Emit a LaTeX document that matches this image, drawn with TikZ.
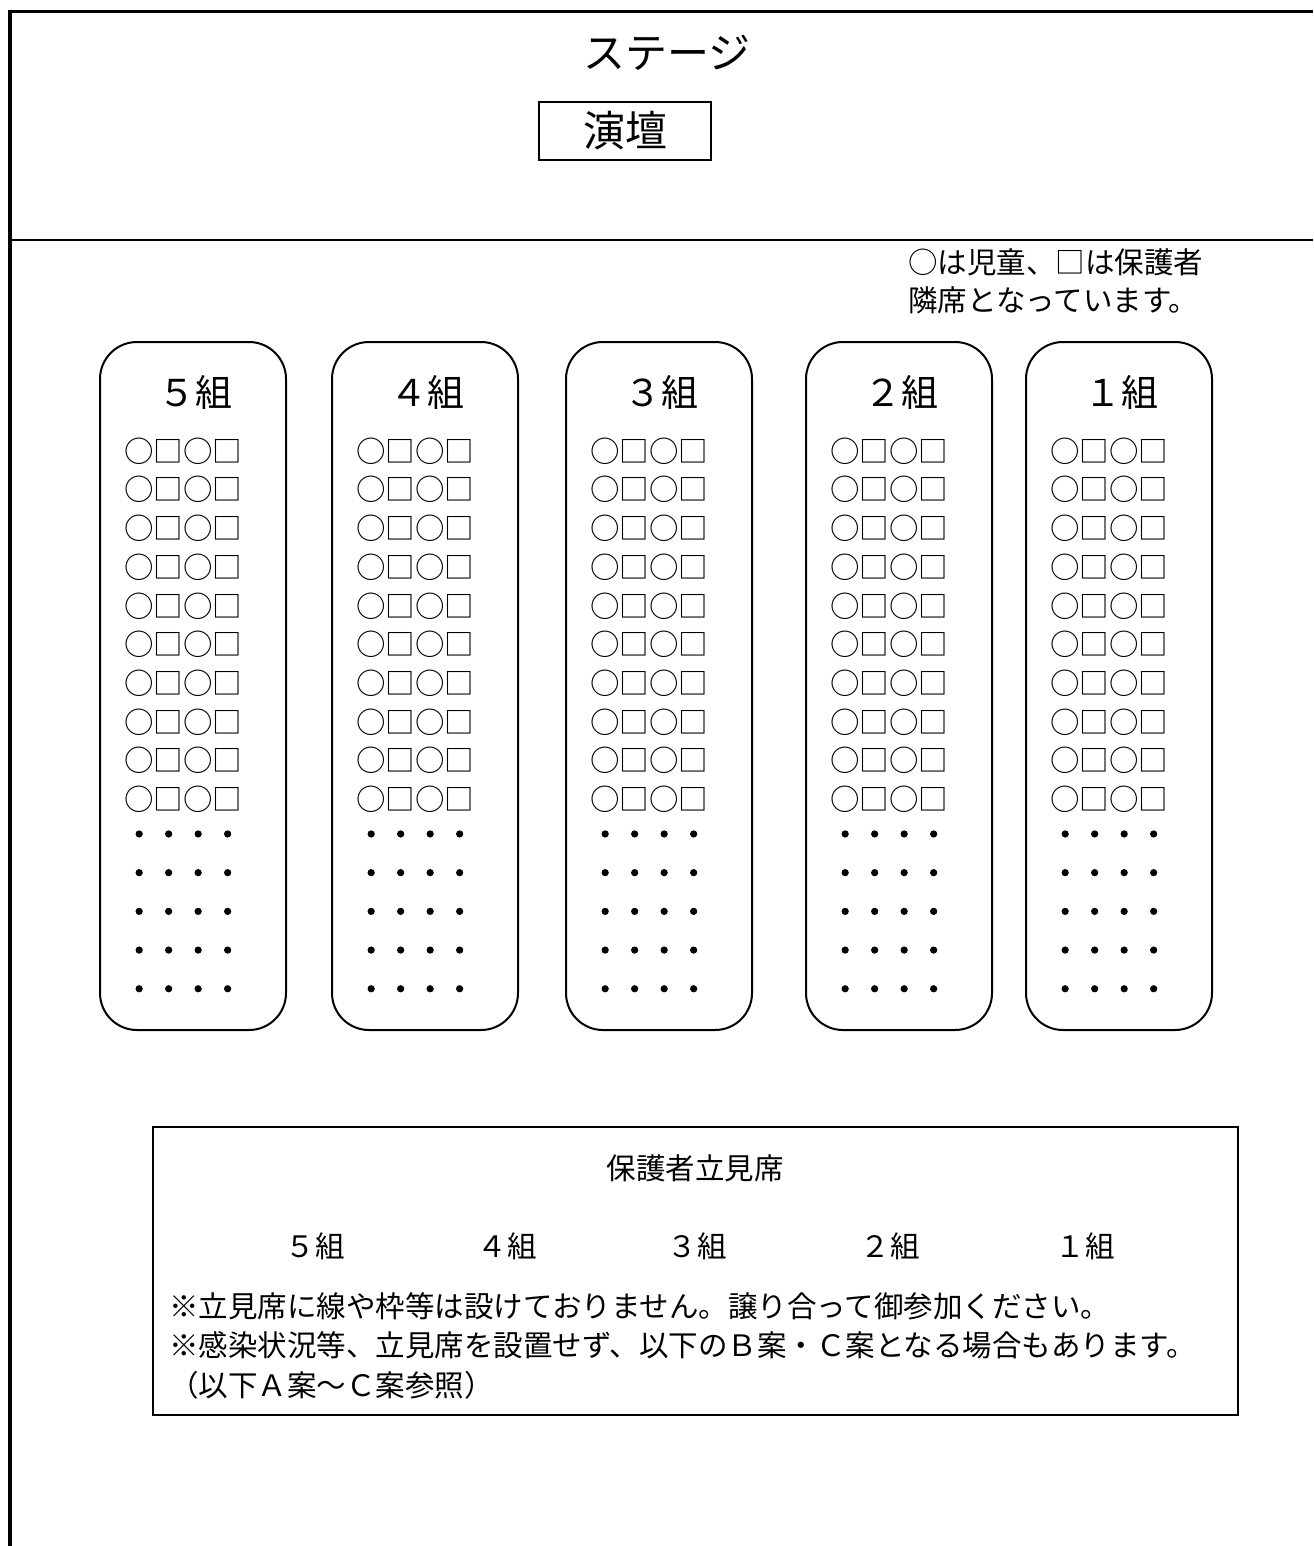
\documentclass[tikz,border=0pt]{standalone}
\usepackage{fontspec}
\setmainfont{Noto Sans CJK JP}
\newfontfamily\dotfont[FakeBold=3]{Noto Sans CJK JP}
\begin{document}
\begin{tikzpicture}[x=0.5pt,y=-0.5pt,
  bodytxt/.style={inner sep=0pt, font=\fontsize{14.75}{17}\selectfont},
  seat/.style={bodytxt, anchor=west},
  dotrow/.style={inner sep=0pt, anchor=west, font=\dotfont\fontsize{14.75}{17}\selectfont},
  linetxt/.style={bodytxt, anchor=west},
  colhead/.style={inner sep=0pt, font=\fontsize{18.5}{22}\selectfont},
  bigtxt/.style={inner sep=0pt, font=\fontsize{21}{24}\selectfont},
  notetxt/.style={inner sep=0pt, anchor=west, font=\fontsize{14.75}{18}\selectfont},
  classbox/.style={draw, line width=1pt, rounded corners=18.5pt, minimum width=93pt, minimum height=344pt, inner sep=0pt},
  plainbox/.style={draw, line width=1pt, inner sep=0pt}
]
\useasboundingbox (0,0) rectangle (1313,1546);
% outer frame and stage line
\coordinate (tl) at (8,11.5);
\coordinate (tr) at (1313,11.5);
\coordinate (lt) at (10,10);
\coordinate (lb) at (10,1546);
\coordinate (sl) at (10,240);
\coordinate (sr) at (1313,240);
\draw[line width=1.6pt] (tl) -- (tr);
\draw[line width=2pt] (lt) -- (lb);
\draw[line width=1.2pt] (sl) -- (sr);
% stage
\node[bigtxt] (stage) at (667,53) {ステージ};
\node[plainbox, bigtxt, draw, line width=1pt, minimum width=86pt, minimum height=29pt] (podium) at (625,131) {演壇};
% note
\node[notetxt] (note1) at (908,262) {○は児童、□は保護者};
\node[notetxt] (note2) at (908,300) {隣席となっています。};
% class columns
\foreach \L/\fw/\n in {100/５/5,332/４/4,566/３/3,806/２/2,1026/１/1} {
  \node[classbox] (box\n) at (\L+93,686) {};
  \node[colhead] (head\n) at (\L+95,392) {\fw 組};
  \foreach \r in {0,...,9}
    \node[seat] (seat\n-\r) at (\L+24,451+38.7*\r) {○□○□};
  \foreach \r in {10,...,14}
    \node[dotrow] (dots\n-\r) at (\L+24,451+38.7*\r) {・・・・};
}
% standing area
\node[plainbox, minimum width=542.5pt, minimum height=144pt] (standbox) at (695.5,1271) {};
\node[bodytxt] (standtitle) at (695,1168) {保護者立見席};
\foreach \x/\fw/\n in {315/５/5,507/４/4,697/３/3,890/２/2,1085/１/1}
  \node[bodytxt] (stand\n) at (\x,1246) {\fw 組};
\node[linetxt] (line1) at (169,1306) {※立見席に線や枠等は設けておりません。譲り合って御参加ください。};
\node[linetxt] (line2) at (169,1345) {※感染状況等、立見席を設置せず、以下のＢ案・Ｃ案となる場合もあります。};
\node[linetxt] (line3) at (169,1385) {（以下Ａ案～Ｃ案参照）};
\end{tikzpicture}
\end{document}
